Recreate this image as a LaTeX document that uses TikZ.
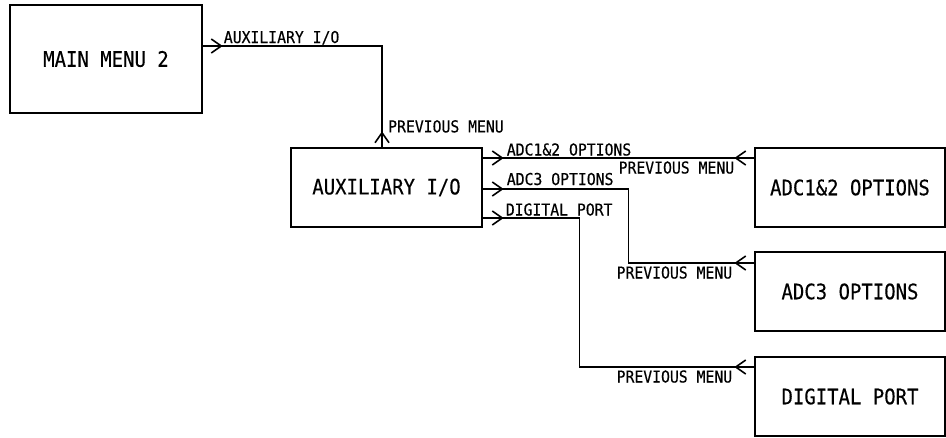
\documentclass[tikz,border=0pt]{standalone}
\usepackage{fontspec}
\newfontfamily\boxfont[FakeStretch=0.89,FakeBold=0.3]{DejaVu Sans Mono}
\newfontfamily\labfont[FakeStretch=0.9,FakeBold=0.4]{DejaVu Sans Mono}
\usetikzlibrary{arrows.meta,calc}
\tikzset{
  menubox/.style={draw, line width=1.3pt, minimum width=190pt, minimum height=79pt, inner sep=0pt,
    font=\boxfont\fontsize{21.3}{25}\selectfont},
  conn/.style={line width=1.3pt},
  arr/.style={line width=1.3pt, -{Straight Barb[length=10pt,width=14pt,line width=1.6pt]}},
  lab/.style={inner sep=0pt, font=\labfont\fontsize{16.4}{19}\selectfont}
}
\begin{document}
\begin{tikzpicture}[x=1pt,y=-1pt]
\useasboundingbox (0,0) rectangle (946,437);
% boxes
\node[menubox, minimum width=192pt, minimum height=108pt] (main) at (106,59) {MAIN MENU 2};
\node[menubox, minimum width=191pt] (aux) at (386.5,187.5) {AUXILIARY I/O};
\node[menubox] (adc12) at (850,187.5) {ADC1\&2 OPTIONS};
\node[menubox] (adc3) at (850,291.5) {ADC3 OPTIONS};
\node[menubox] (dig) at (850,396.5) {DIGITAL PORT};
% connection points
\coordinate (m1) at ($(main.east)+(0,-13)$);
\coordinate (a0) at ($(aux.north)+(-4.5,0)$);
\coordinate (p1) at ($(aux.east)+(0,-29.5)$);
\coordinate (p2) at ($(aux.east)+(0,1.5)$);
\coordinate (p3) at ($(aux.east)+(0,30.5)$);
\coordinate (q1) at ($(adc12.west)+(0,-29.5)$);
\coordinate (q2) at ($(adc3.west)+(0,-28.5)$);
\coordinate (q3) at ($(dig.west)+(0,-29.5)$);
% main <-> aux
\draw[conn] (m1) -| (a0);
\draw[arr] (m1) -- ++(20,0);
\draw[arr] (a0) -- ++(0,-16);
\node[lab, anchor=base west] (l1) at ($(m1)+(21,-3)$) {AUXILIARY I/O};
\node[lab, anchor=base west] (l2) at ($(a0)+(6,-15)$) {PREVIOUS MENU};
% aux <-> adc12
\draw[conn] (p1) -- (q1);
\draw[arr] (p1) -- ++(21,0);
\draw[arr] (q1) -- ++(-20,0);
\node[lab, anchor=base west] (l3) at ($(p1)+(24,-2.5)$) {ADC1\&2 OPTIONS};
\node[lab, anchor=base east] (l4) at ($(q1)+(-20,15.5)$) {PREVIOUS MENU};
% aux <-> adc3
\draw[conn] (p2) -- ++(146,0) |- (q2);
\draw[arr] (p2) -- ++(21,0);
\draw[arr] (q2) -- ++(-20,0);
\node[lab, anchor=base west] (l5) at ($(p2)+(24,-4)$) {ADC3 OPTIONS};
\node[lab, anchor=base east] (l6) at ($(q2)+(-22,15.5)$) {PREVIOUS MENU};
% aux <-> dig
\draw[conn] (p3) -- ++(97,0) |- (q3);
\draw[arr] (p3) -- ++(21,0);
\draw[arr] (q3) -- ++(-20,0);
\node[lab, anchor=base west] (l7) at ($(p3)+(23,-2.5)$) {DIGITAL PORT};
\node[lab, anchor=base east] (l8) at ($(q3)+(-22,15.5)$) {PREVIOUS MENU};
\end{tikzpicture}
\end{document}
